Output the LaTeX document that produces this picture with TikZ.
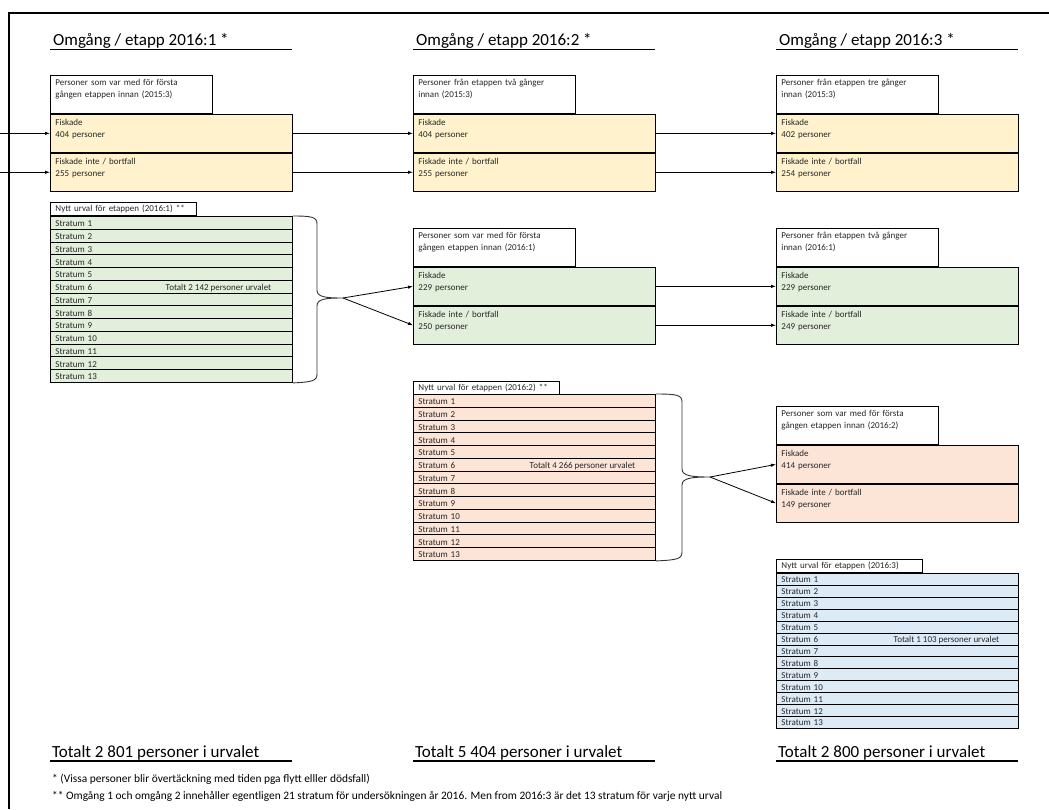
\documentclass[tikz,border=0pt]{standalone}
\usepackage{fontspec}
\setmainfont{Carlito}
\usetikzlibrary{arrows.meta}
\usetikzlibrary{positioning}

\definecolor{fishyel}{RGB}{255,242,204}
\definecolor{fishgreen}{RGB}{226,239,218}
\definecolor{fishpeach}{RGB}{252,228,214}
\definecolor{fishblue}{RGB}{221,235,247}

\newcommand{\boxfont}{\fontsize{9}{12.5}\selectfont}
\newcommand{\titlefont}{\fontsize{17}{20}\selectfont}
\newcommand{\notefont}{\fontsize{11.4}{13}\selectfont}

\tikzset{
  title/.style={font=\titlefont, anchor=base west, inner sep=0pt},
  note/.style={font=\notefont, anchor=base west, inner sep=0pt},
  headbox/.style={draw, line width=0.9pt, fill=white, anchor=north west, font=\boxfont, text=black!85,
    align=left, text width=152pt, inner xsep=5pt, inner ysep=0pt, text height=10pt, text depth=28pt},
  fishbox/.style={draw, line width=0.9pt, anchor=north west, font=\boxfont, text=black!85,
    align=left, text width=232pt, inner xsep=5pt, inner ysep=0pt, text height=11pt, text depth=27pt},
  tabbox/.style={draw, line width=0.9pt, fill=white, anchor=north west, font=\boxfont, text=black!85,
    align=left, text width=136pt, inner xsep=5pt, inner ysep=0pt, text height=9.5pt, text depth=3.5pt},
  stratbox/.style={draw, line width=0.9pt, anchor=north west, font=\boxfont, text=black!85,
    align=left, text width=232pt, inner xsep=5pt, inner ysep=0pt, text depth=2.5pt},
  sumtext/.style={font=\boxfont, text=black!85, anchor=base, inner sep=0pt},
  flow/.style={-{Latex[length=5pt,width=3.5pt]}, line width=0.8pt},
  brace/.style={line width=0.9pt, black!80},
}

\begin{document}
\begin{tikzpicture}[x=1pt,y=-1pt]
\useasboundingbox (0,0) rectangle (1049,809);
\coordinate (edge) at (0,0);
\draw[line width=2pt] (9,809) -- (9,13) -- (1049,13);

% rubriker
\node[title] (o1) at (53,45) {Omgång / etapp 2016:1 *};
\node[title] (o2) at (416,45) {Omgång / etapp 2016:2 *};
\node[title] (o3) at (779,45) {Omgång / etapp 2016:3 *};
\draw[line width=1.5pt] (50,49.5) -- (292,49.5);
\draw[line width=1.5pt] (413,49.5) -- (655,49.5);
\draw[line width=1.5pt] (776,49.5) -- (1018,49.5);

% etapp 2015:3
\node[headbox] (h1) at (50,75) {Personer som var med för första\\gången etappen innan (2015:3)};
\node[fishbox, fill=fishyel] (f1a) at (h1.south west) {Fiskade\\404 personer};
\node[fishbox, fill=fishyel] (f1b) at (f1a.south west) {Fiskade inte / bortfall\\255 personer};
\node[headbox] (h2) at (413,75) {Personer från etappen två gånger\\innan (2015:3)};
\node[fishbox, fill=fishyel] (f2a) at (h2.south west) {Fiskade\\404 personer};
\node[fishbox, fill=fishyel] (f2b) at (f2a.south west) {Fiskade inte / bortfall\\255 personer};
\node[headbox] (h3) at (776,75) {Personer från etappen tre gånger\\innan (2015:3)};
\node[fishbox, fill=fishyel] (f3a) at (h3.south west) {Fiskade\\402 personer};
\node[fishbox, fill=fishyel] (f3b) at (f3a.south west) {Fiskade inte / bortfall\\254 personer};
\draw[flow] (edge |- f1a.west) -- (f1a.west);
\draw[flow] (edge |- f1b.west) -- (f1b.west);
\draw[flow] (f1a.east) -- (f2a.west);
\draw[flow] (f1b.east) -- (f2b.west);
\draw[flow] (f2a.east) -- (f3a.west);
\draw[flow] (f2b.east) -- (f3b.west);

% nytt urval 2016:1
\node[tabbox] (t1) at (50,202) {Nytt urval för etappen (2016:1) **};
\foreach \i in {1,...,13}
  \node[stratbox, fill=fishgreen, text height=10.27pt] (u1-\i) at (50,{216+(\i-1)*12.77}) {Stratum \i};
\node[sumtext] (n1) at ([xshift=47pt]u1-6.base) {Totalt 2 142 personer urvalet};
\draw[brace] (u1-1.north east) .. controls (312,216) and (317,217) .. (317,224) -- (317,290)
  .. controls (317,297) and (325,298) .. (343,298) coordinate (b1)
  .. controls (325,298) and (317,299) .. (317,306) -- (317,374)
  .. controls (317,381) and (312,382) .. (u1-13.south east);

\node[headbox] (hm2) at (413,228) {Personer som var med för första\\gången etappen innan (2016:1)};
\node[fishbox, fill=fishgreen] (fm2a) at (hm2.south west) {Fiskade\\229 personer};
\node[fishbox, fill=fishgreen] (fm2b) at (fm2a.south west) {Fiskade inte / bortfall\\250 personer};
\node[headbox] (hm3) at (776,228) {Personer från etappen två gånger\\innan (2016:1)};
\node[fishbox, fill=fishgreen] (fm3a) at (hm3.south west) {Fiskade\\229 personer};
\node[fishbox, fill=fishgreen] (fm3b) at (fm3a.south west) {Fiskade inte / bortfall\\249 personer};
\draw[flow] (b1) -- (fm2a.west);
\draw[flow] (b1) -- (fm2b.west);
\draw[flow] (fm2a.east) -- (fm3a.west);
\draw[flow] (fm2b.east) -- (fm3b.west);

% nytt urval 2016:2
\node[tabbox] (t2) at (413,381) {Nytt urval för etappen (2016:2) **};
\foreach \i in {1,...,13}
  \node[stratbox, fill=fishpeach, text height=10.27pt] (u2-\i) at (413,{394+(\i-1)*12.77}) {Stratum \i};
\node[sumtext] (n2) at ([xshift=48pt]u2-6.base) {Totalt 4 266 personer urvalet};
\draw[brace] (u2-1.north east) .. controls (677,394) and (682,395) .. (682,402) -- (682,469)
  .. controls (682,476) and (692,477) .. (710,477) coordinate (b2)
  .. controls (692,477) and (682,478) .. (682,485) -- (682,552)
  .. controls (682,559) and (677,560) .. (u2-13.south east);

\node[headbox] (hl3) at (776,406) {Personer som var med för första\\gången etappen innan (2016:2)};
\node[fishbox, fill=fishpeach] (fl3a) at (hl3.south west) {Fiskade\\414 personer};
\node[fishbox, fill=fishpeach] (fl3b) at (fl3a.south west) {Fiskade inte / bortfall\\149 personer};
\draw[flow] (b2) -- (fl3a.west);
\draw[flow] (b2) -- (fl3b.west);

% nytt urval 2016:3
\node[tabbox] (t3) at (776,559) {Nytt urval för etappen (2016:3)};
\foreach \i in {1,...,13}
  \node[stratbox, fill=fishblue, text height=9.42pt] (u3-\i) at (776,{573+(\i-1)*11.92}) {Stratum \i};
\node[sumtext] (n3) at ([xshift=49pt]u3-6.base) {Totalt 1 103 personer urvalet};

% summor
\node[title] (s1) at (52,757) {Totalt 2 801 personer i urvalet};
\node[title] (s2) at (415,757) {Totalt 5 404 personer i urvalet};
\node[title] (s3) at (778,757) {Totalt 2 800 personer i urvalet};
\draw[line width=1.5pt] (50,761) -- (292,761);
\draw[line width=1.5pt] (413,761) -- (655,761);
\draw[line width=1.5pt] (776,761) -- (1018,761);

\node[note] (fn1) at (52,782) {* (Vissa personer blir övertäckning med tiden pga flytt elller dödsfall)};
\node[note] (fn2) at (52,799) {** Omgång 1 och omgång 2 innehåller egentligen 21 stratum för undersökningen år 2016. Men from 2016:3 är det 13 stratum för varje nytt urval};

\end{tikzpicture}
\end{document}
